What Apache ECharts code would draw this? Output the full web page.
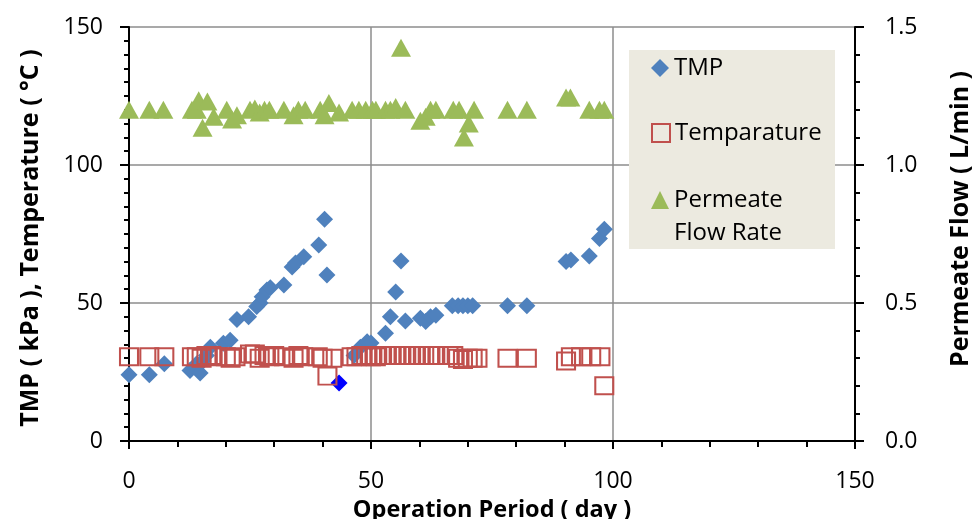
<!DOCTYPE html>
<html>
<head>
<meta charset="utf-8">
<script src="https://cdn.jsdelivr.net/npm/echarts@6/dist/echarts.min.js"></script>
<style>
  html, body { margin: 0; padding: 0; background: #fff; }
  #chart { width: 977px; height: 519px; }
</style>
</head>
<body>
<div id="chart"></div>
<script>
// TMP (kPa), left axis
var tmpDays   = [0, 4.2, 7.3, 12.6, 14, 14.7, 15.3, 16, 16.8, 19.5, 20.9, 22.3, 24.7, 26.4, 27.1, 27.5, 28.5, 29.2, 32, 33.7, 34.4, 36.1, 39.2, 40.4, 40.9, 43.4, 46.5, 47.8, 49.2, 50, 53, 54, 55.1, 56.2, 57.1, 60.2, 61.3, 62.3, 63.4, 66.8, 68, 69, 70, 71, 78.2, 82.2, 90.3, 91.3, 95.1, 97.2, 98.2];
var tmpValues = [24, 24, 28, 25.5, 28, 24.6, 29, 31, 34, 35.4, 36.5, 44, 45, 48.7, 50, 52.3, 54.7, 55.5, 56.5, 63, 64.5, 66.8, 71, 80.3, 60.1, 21, 31, 34, 36, 35.5, 39, 45, 54, 65.2, 43.5, 44.5, 43.3, 45, 45.6, 49, 49, 49, 49, 49, 49, 49, 65, 65.6, 67, 73.4, 76.7];
var tmpMarkedDays = [43.4];

// Temperature (°C), left axis
var tempDays   = [0, 4.2, 7.3, 13, 14, 15, 16, 17, 18, 20, 21, 22, 25, 26, 27, 28, 29, 30, 32, 34, 35, 36, 39, 40, 41, 42, 46, 47, 48, 49, 50, 51, 52, 53, 54, 55, 56, 57, 58, 59, 60, 61, 62, 63, 64, 66, 67, 68, 69, 70, 71, 72, 78.2, 82.2, 90.3, 91.3, 93.4, 95.5, 97.4, 98.2];
var tempValues = [30.5, 30.5, 30.5, 30.5, 30.5, 30, 31, 31, 30.5, 30.5, 30, 30.5, 31.5, 31.5, 30, 31, 30.5, 31, 30.5, 30, 31, 30.5, 30.5, 30, 23.5, 30, 30.5, 30.5, 31, 31, 30.5, 30.5, 31, 31, 31, 31, 31, 31, 31, 31, 31, 31, 31, 31, 31, 31, 31, 30, 29.5, 30, 30, 30, 30, 30, 29, 30.5, 30.5, 30.5, 30.5, 20];

// Permeate flow (L/min), right axis
var flowDays   = [0, 4.2, 7.1, 13, 14, 14.4, 15.2, 16.2, 17.5, 20.2, 21.3, 22.3, 25, 26, 27, 28, 29, 32, 34, 35, 36.4, 39.5, 40.4, 41.3, 43.4, 46.1, 47.5, 48.9, 50.3, 51, 53, 54, 55.1, 56.2, 57.1, 60.2, 61.3, 62.3, 63.4, 67, 68.2, 69.2, 70.2, 71.3, 78.2, 82.2, 90.3, 91.2, 95.1, 97.2, 98.2];
var flowValues = [1.2, 1.2, 1.2, 1.2, 1.2, 1.235, 1.135, 1.23, 1.175, 1.2, 1.165, 1.18, 1.2, 1.205, 1.19, 1.2, 1.2, 1.2, 1.18, 1.2, 1.2, 1.2, 1.18, 1.225, 1.19, 1.2, 1.2, 1.2, 1.2, 1.2, 1.2, 1.2, 1.21, 1.425, 1.2, 1.16, 1.175, 1.2, 1.2, 1.2, 1.2, 1.1, 1.15, 1.2, 1.2, 1.2, 1.245, 1.245, 1.2, 1.2, 1.2];

var seriesNames = ['TMP', 'Temparature', 'Permeate\nFlow Rate'];
var xTicks = [0, 150, 50];      // min, max, interval
var yLeftTicks = [0, 150, 50];
var yRightTicks = [0, 1.5, 0.5];

var FONT = 'Open Sans';

function pairs(xs, ys) {
  return xs.map(function (x, i) { return [x, ys[i]]; });
}

var tmpData = pairs(tmpDays, tmpValues).map(function (p) {
  if (tmpMarkedDays.indexOf(p[0]) >= 0) {
    return { value: p, itemStyle: { color: '#0000ff' } };
  }
  return p;
});

var chart = echarts.init(document.getElementById('chart'));

var axisLine = { show: true, lineStyle: { color: '#000', width: 2 } };
var gridLine = { show: true, lineStyle: { color: '#8c8c8c', width: 1.5 } };
var tick = { show: true, length: 9, lineStyle: { color: '#000', width: 2 } };
var labelStyle = { fontFamily: FONT, fontSize: 23, color: '#000' };
var nameStyle = { fontFamily: FONT, fontSize: 23.5, fontWeight: 'bold', color: '#000' };
var legendText = { fontFamily: FONT, fontSize: 24, color: '#000', lineHeight: 33 };

function legendAt(name, top, formatter) {
  var lg = {
    orient: 'vertical',
    left: 651,
    top: top,
    padding: 0,
    itemWidth: 18,
    itemHeight: 18,
    itemGap: 5,
    textStyle: legendText,
    data: [name]
  };
  if (formatter) lg.formatter = formatter;
  return lg;
}

chart.setOption({
  animation: false,
  textStyle: { fontFamily: FONT },
  grid: { left: 129, right: 122, top: 27, bottom: 78, outerBoundsMode: 'none', containLabel: false },
  graphic: [{
    type: 'rect',
    left: 629, top: 50, z: 1,
    shape: { width: 206, height: 199 },
    style: { fill: '#eceae0' }
  }],
  legend: [
    legendAt(seriesNames[0], 51.5),
    legendAt(seriesNames[1], 116.5),
    // two-line label: a blank first line puts the icon beside "Permeate"
    legendAt(seriesNames[2], 150.5, function (name) { return ' \n' + name; })
  ],
  xAxis: {
    type: 'value',
    min: xTicks[0], max: xTicks[1], interval: xTicks[2],
    name: 'Operation Period ( day )',
    nameLocation: 'middle',
    nameGap: 52,
    nameTextStyle: nameStyle,
    axisLine: axisLine,
    axisTick: { show: true, length: 8, lineStyle: { color: '#000', width: 2 } },
    minorTick: { show: true, splitNumber: 5, length: 6, lineStyle: { color: '#000', width: 2 } },
    axisLabel: Object.assign({ margin: 29 }, labelStyle),
    splitLine: gridLine
  },
  yAxis: [
    {
      type: 'value',
      position: 'left',
      min: yLeftTicks[0], max: yLeftTicks[1], interval: yLeftTicks[2],
      name: 'TMP ( kPa ), Temperature ( \u00B0C )',
      nameLocation: 'middle',
      nameGap: 86,
      nameTextStyle: Object.assign({}, nameStyle, { fontSize: 25, padding: [0, 8, 0, 0] }),
      axisLine: axisLine,
      axisTick: tick,
      minorTick: { show: true, splitNumber: 10, length: 5, lineStyle: { color: '#000', width: 2 } },
      axisLabel: Object.assign({ margin: 26 }, labelStyle),
      splitLine: gridLine
    },
    {
      type: 'value',
      position: 'right',
      min: yRightTicks[0], max: yRightTicks[1], interval: yRightTicks[2],
      name: 'Permeate Flow ( L/min )',
      nameLocation: 'middle',
      nameGap: 93,
      nameRotate: 90,
      nameTextStyle: Object.assign({}, nameStyle, { fontSize: 25, padding: [0, 0, 0, 30] }),
      axisLine: axisLine,
      axisTick: tick,
      minorTick: { show: true, splitNumber: 5, length: 5, lineStyle: { color: '#000', width: 2 } },
      axisLabel: Object.assign({
        margin: 30,
        formatter: function (v) { return v.toFixed(1); }
      }, labelStyle),
      splitLine: { show: false }
    }
  ],
  series: [
    {
      name: seriesNames[0],
      type: 'scatter',
      yAxisIndex: 0,
      symbol: 'diamond',
      symbolSize: [17, 17],
      itemStyle: { color: '#4f81bd', opacity: 1 },
      data: tmpData
    },
    {
      name: seriesNames[1],
      type: 'scatter',
      yAxisIndex: 0,
      symbol: 'rect',
      symbolSize: [18, 17],
      itemStyle: { color: 'rgba(255,255,255,0)', borderColor: '#c0504d', borderWidth: 2, opacity: 1 },
      data: pairs(tempDays, tempValues)
    },
    {
      name: seriesNames[2],
      type: 'scatter',
      yAxisIndex: 1,
      symbol: 'triangle',
      symbolSize: [20, 18],
      itemStyle: { color: '#9bbb59', opacity: 1 },
      data: pairs(flowDays, flowValues)
    }
  ]
});
</script>
</body>
</html>
